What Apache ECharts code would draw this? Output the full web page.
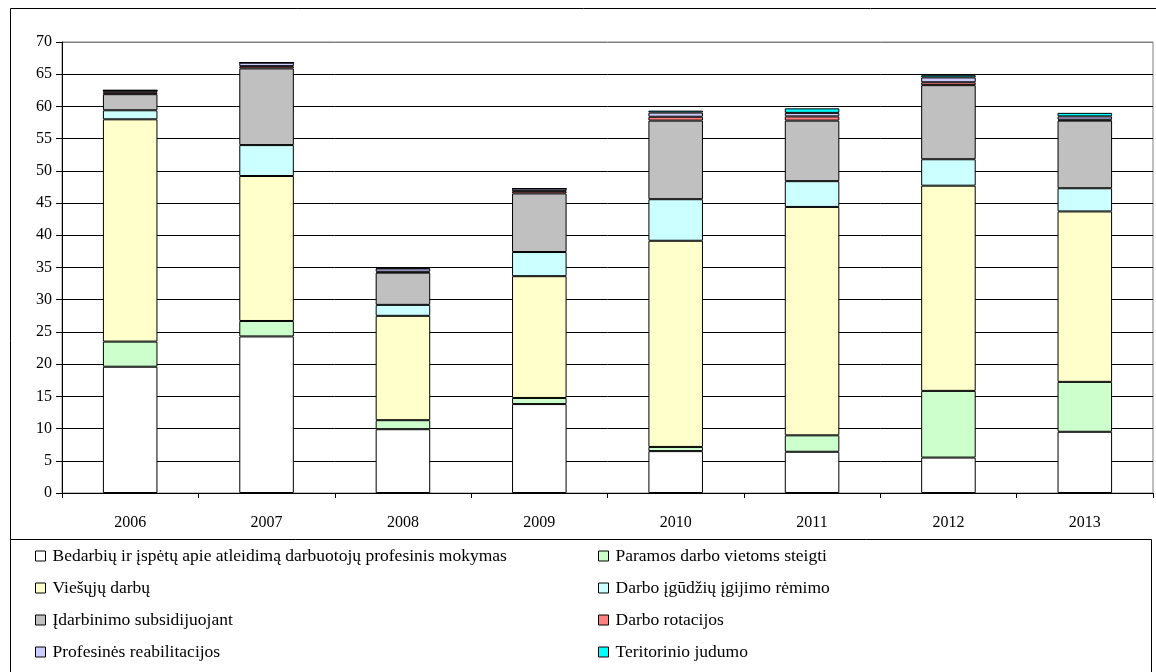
<!DOCTYPE html>
<html>
<head>
<meta charset="utf-8">
<script src="https://cdn.jsdelivr.net/npm/echarts@6/dist/echarts.min.js"></script>
<style>
  html, body { margin: 0; padding: 0; background: #fff; }
  #chart { width: 1156px; height: 672px; }
</style>
</head>
<body>
<div id="chart"></div>
<script>
  // metai
  var years = ['2006', '2007', '2008', '2009', '2010', '2011', '2012', '2013']

  // priemonių dalyviai (tūkst.), iš apačios į viršų
  var mokymas = [19.6, 24.3, 9.9, 13.8, 6.5, 6.4, 5.5, 9.5]
  var paramos = [3.9, 2.4, 1.4, 0.95, 0.65, 2.55, 10.35, 7.75]
  var viesuju = [34.5, 22.5, 16.2, 18.9, 32.0, 35.45, 31.85, 26.45]
  var igudziu = [1.4, 4.8, 1.7, 3.75, 6.45, 4.0, 4.1, 3.6]
  var subsid = [2.5, 11.9, 5.0, 9.1, 12.2, 9.4, 11.5, 10.5]
  var rotacijos = [0.3, 0.35, 0.15, 0.35, 0.6, 0.65, 0.45, 0.15]
  var reabilit = [0.3, 0.55, 0.5, 0.4, 0.65, 0.55, 0.75, 0.5]
  var judumo = [0, 0, 0.1, 0, 0.3, 0.7, 0.35, 0.55]

  var names = [
    'Bedarbių ir įspėtų apie atleidimą darbuotojų profesinis mokymas',
    'Paramos darbo vietoms steigti',
    'Viešųjų darbų',
    'Darbo įgūdžių įgijimo rėmimo',
    'Įdarbinimo subsidijuojant',
    'Darbo rotacijos',
    'Profesinės reabilitacijos',
    'Teritorinio judumo'
  ]
  var values = [mokymas, paramos, viesuju, igudziu, subsid, rotacijos, reabilit, judumo]
  var colors = ['#FFFFFF', '#CCFFCC', '#FFFFCC', '#CCFFFF', '#C0C0C0', '#FF8080', '#CCCCFF', '#00FFFF']

  var font = '"Liberation Serif", "Times New Roman", serif'

  var chart = echarts.init(document.getElementById('chart'))

  var series = names.map(function (n, i) {
    return {
      name: n,
      type: 'bar',
      stack: 'visi',
      barWidth: '40%',
      data: values[i],
      itemStyle: {
        color: colors[i],
        borderColor: '#000',
        borderWidth: 1
      },
      emphasis: { disabled: true }
    }
  })

  // horizontalios linijos juodos, viršutinė (70) pilka
  var splitColors = []
  for (var k = 0; k < 14; k++) splitColors.push('#000')
  splitColors.push('#808080')

  var legendBase = {
    orient: 'vertical',
    top: 546,
    height: 200,
    padding: 0,
    itemWidth: 10,
    itemHeight: 10,
    itemGap: 12,
    icon: 'rect',
    selectedMode: false,
    itemStyle: { borderColor: '#000', borderWidth: 1 },
    textStyle: { fontFamily: font, fontSize: 17.5, lineHeight: 20, color: '#000', padding: [0, 0, 0, 2] }
  }

  chart.setOption({
    animation: false,
    textStyle: { fontFamily: font },
    grid: {
      left: 62,
      right: 3,
      top: 42,
      bottom: 179,
      show: true,
      borderColor: '#808080',
      borderWidth: 1
    },
    graphic: [
      {
        type: 'rect',
        shape: { x: 10.5, y: 8.5, width: 1200, height: 700 },
        style: { fill: 'none', stroke: '#000', lineWidth: 1 },
        silent: true
      },
      {
        type: 'rect',
        shape: { x: 10.5, y: 539.5, width: 1141, height: 200 },
        style: { fill: '#fff', stroke: '#000', lineWidth: 1 },
        silent: true
      }
    ],
    legend: [
      Object.assign({}, legendBase, {
        left: 35,
        data: [names[0], names[2], names[4], names[6]]
      }),
      Object.assign({}, legendBase, {
        left: 598,
        data: [names[1], names[3], names[5], names[7]]
      })
    ],
    xAxis: {
      type: 'category',
      data: years,
      axisLine: { lineStyle: { color: '#000', width: 1 } },
      axisTick: { show: true, length: 5, lineStyle: { color: '#000' } },
      axisLabel: { color: '#000', fontSize: 16, fontFamily: font, margin: 22 },
      splitLine: { show: false }
    },
    yAxis: {
      type: 'value',
      min: 0,
      max: 70,
      interval: 5,
      axisLine: { show: true, lineStyle: { color: '#000', width: 1 } },
      axisTick: { show: true, length: 6, lineStyle: { color: '#000' } },
      axisLabel: { color: '#000', fontSize: 16, fontFamily: font, margin: 10 },
      splitLine: { show: true, lineStyle: { color: splitColors, width: 1 } }
    },
    series: series
  })
</script>
</body>
</html>
